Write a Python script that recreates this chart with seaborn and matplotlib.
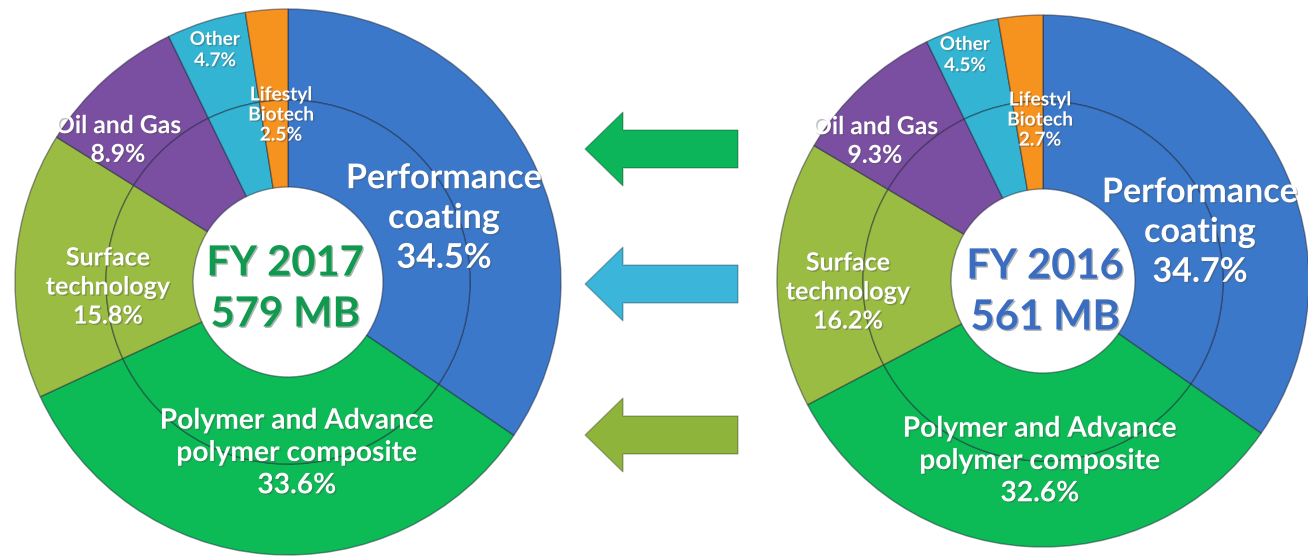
import matplotlib
matplotlib.use("Agg")
import matplotlib.pyplot as plt
import matplotlib.patheffects as pe
import seaborn as sns
from matplotlib.patches import Polygon

sns.set_theme(style="white")
plt.rcParams['font.family'] = ['Lato', 'DejaVu Sans']

# data
segments = ["Performance coating", "Polymer and Advance polymer composite",
            "Surface technology", "Oil and Gas", "Other", "Lifestyl Biotech"]
label_text = ["Performance\ncoating", "Polymer and Advance\npolymer composite",
              "Surface\ntechnology", "Oil and Gas", "Other", "Lifestyl\nBiotech"]
share_2017 = [34.5, 33.6, 15.8, 8.9, 4.7, 2.5]
share_2016 = [34.7, 32.6, 16.2, 9.3, 4.5, 2.7]
years = ["FY 2017", "FY 2016"]
totals_mb = [579, 561]

seg_colors = ["#3B78C9", "#0CBA56", "#9ABC43", "#7A4FA2", "#32B4D2", "#F6921E"]
title_colors = ["#11994F", "#3A6DBF"]
arrow_colors = ["#0DB55A", "#3BB6DA", "#8FB43C"]

# layout (pixel coords, y down)
centers = [(288, 282), (1043, 281)]
radii = [(273, 182, 95), (266, 180, 92)]
label_size = [24.5, 20.3, 18, 17.8, 13.6, 13.8]
label_spacing = [1.3, 1.3, 1.32, 1.3, 1.3, 1.22]
label_offsets = [
    [(156, -64), (9, 171), (-180, 5), (-170, -142), (-73, -232), (-7, -167)],
    [(157, -49), (-3, 180), (-195, 11), (-168, -140), (-78, -226), (-3, -161)],
]
title_offsets = [(-3, 7), (2, 11)]
arrow_y = [149, 284, 435]

fig = plt.figure(figsize=(13.08, 5.59), dpi=100)
ax = fig.add_axes([0, 0, 1, 1])

edge = dict(edgecolor=(0.1, 0.12, 0.2, 0.45), linewidth=1.0)
shadow = [pe.SimplePatchShadow(offset=(1, -1), alpha=0.35), pe.Normal()]
for k, shares in enumerate([share_2017, share_2016]):
    cx, cy = centers[k]
    r_out, r_mid, r_hole = radii[k]
    ax.pie(shares, colors=seg_colors, radius=r_out, center=(cx, cy),
           startangle=-90, counterclock=True,
           wedgeprops=dict(width=r_out - r_mid, **edge))
    ax.pie(shares, colors=seg_colors, radius=r_mid, center=(cx, cy),
           startangle=-90, counterclock=True,
           wedgeprops=dict(width=r_mid - r_hole, **edge))
    for i, txt in enumerate(label_text):
        dx, dy = label_offsets[k][i]
        ax.text(cx + dx, cy + dy, f"{txt}\n{shares[i]}%", ha="center", va="center",
                color="white", fontsize=label_size[i], fontweight="bold",
                linespacing=label_spacing[i], path_effects=shadow)
    tx, ty = title_offsets[k]
    ax.text(cx + tx, cy + ty, f"{years[k]}\n{totals_mb[k]} MB", ha="center",
            va="center", color=title_colors[k], fontsize=30, fontweight="bold",
            linespacing=1.42, path_effects=shadow)

# arrows pointing to the newer year
for y, c in zip(arrow_y, arrow_colors):
    pts = [(585, y), (623, y - 37), (623, y - 19), (738, y - 19),
           (738, y + 19), (623, y + 19), (623, y + 37)]
    ax.add_patch(Polygon(pts, closed=True, facecolor=c,
                         edgecolor=(0, 0, 0, 0.25), linewidth=1))

ax.set_xlim(0, 1308)
ax.set_ylim(559, 0)
ax.set_aspect("equal")
ax.axis("off")
fig.savefig("out.png", dpi=100, facecolor="white")
